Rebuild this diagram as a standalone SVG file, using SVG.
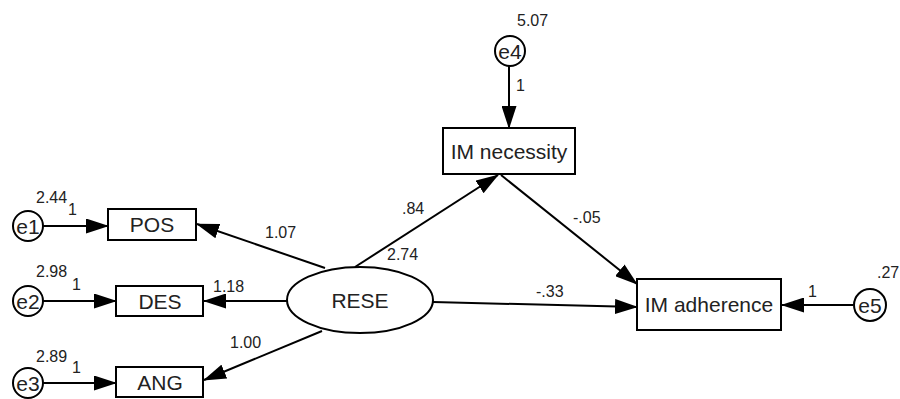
<svg xmlns="http://www.w3.org/2000/svg" width="900" height="399" viewBox="0 0 900 399">
<style>
.box{fill:#fff;stroke:#000;stroke-width:2}
.lbl{font-family:"Liberation Sans",Arial,sans-serif;font-size:21px;fill:#222;text-anchor:middle}
.num{font-family:"Liberation Sans",Arial,sans-serif;font-size:16px;fill:#222}
.edge{stroke:#000;stroke-width:2;fill:none;marker-end:url(#ah)}
</style>
<defs>
<marker id="ah" markerUnits="userSpaceOnUse" markerWidth="23" markerHeight="15" refX="22" refY="7.5" orient="auto">
<path d="M0,0 L23,7.5 L0,15 Z" fill="#000"/>
</marker>
</defs>
<rect width="900" height="399" fill="#fff"/>
<g id="connectors">
<line class="edge" x1="43" y1="226" x2="108" y2="226"/>
<line class="edge" x1="43" y1="301" x2="116" y2="301"/>
<line class="edge" x1="43" y1="383" x2="116" y2="383"/>
<line class="edge" x1="325" y1="268" x2="197" y2="224"/>
<line class="edge" x1="287" y1="301" x2="204" y2="301"/>
<line class="edge" x1="322" y1="331" x2="204" y2="380"/>
<line class="edge" x1="355" y1="267" x2="498" y2="175"/>
<line class="edge" x1="501" y1="175" x2="637" y2="284"/>
<line class="edge" x1="433" y1="302" x2="637" y2="307"/>
<line class="edge" x1="853" y1="305" x2="782" y2="305"/>
<line class="edge" x1="509" y1="66" x2="509" y2="128"/>
</g>
<g id="POS"><rect class="box" x="108" y="209" width="88" height="31"/><text class="lbl" x="152" y="232">POS</text></g>
<g id="DES"><rect class="box" x="116" y="286" width="87" height="30"/><text class="lbl" x="160" y="308.5">DES</text></g>
<g id="ANG"><rect class="box" x="116" y="367" width="87" height="30"/><text class="lbl" x="160" y="389.5">ANG</text></g>
<g id="RESE"><ellipse class="box" cx="360" cy="300" rx="73" ry="33"/><text class="lbl" x="360" y="307.5">RESE</text></g>
<g id="IMnecessity"><rect class="box" x="443" y="128" width="132" height="46"/><text class="lbl" x="509" y="158.5">IM necessity</text></g>
<g id="IMadherence"><rect class="box" x="637" y="279" width="144" height="51"/><text class="lbl" x="709" y="312">IM adherence</text></g>
<g id="e1"><circle class="box" cx="28" cy="226" r="15"/><text class="lbl" x="28" y="233.5">e1</text></g>
<g id="e2"><circle class="box" cx="28" cy="301" r="15"/><text class="lbl" x="28" y="308.5">e2</text></g>
<g id="e3"><circle class="box" cx="28" cy="383" r="15"/><text class="lbl" x="28" y="390.5">e3</text></g>
<g id="e4"><circle class="box" cx="510" cy="51" r="15"/><text class="lbl" x="510" y="58.5">e4</text></g>
<g id="e5"><circle class="box" cx="870" cy="305" r="16"/><text class="lbl" x="870" y="312.5">e5</text></g>
<g id="labels">
<text class="num" x="36" y="203">2.44</text>
<text class="num" x="68" y="215">1</text>
<text class="num" x="36" y="277">2.98</text>
<text class="num" x="72" y="290">1</text>
<text class="num" x="36" y="362">2.89</text>
<text class="num" x="72" y="373">1</text>
<text class="num" x="265" y="238">1.07</text>
<text class="num" x="213" y="292">1.18</text>
<text class="num" x="230" y="348">1.00</text>
<text class="num" x="402" y="214">.84</text>
<text class="num" x="387" y="260">2.74</text>
<text class="num" x="573" y="223">-.05</text>
<text class="num" x="536" y="297">-.33</text>
<text class="num" x="517" y="26">5.07</text>
<text class="num" x="516" y="91">1</text>
<text class="num" x="808" y="297">1</text>
<text class="num" x="877" y="278">.27</text>
</g>
</svg>
